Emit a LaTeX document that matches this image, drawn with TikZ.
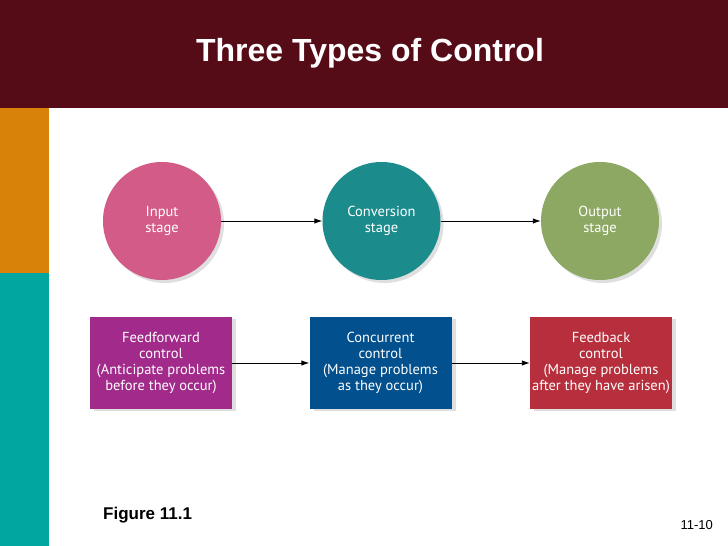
\documentclass[tikz,border=0pt]{standalone}
\usepackage{fontspec}
\setmainfont{Liberation Sans}
\newfontfamily\stagefont{PT Sans}
\usetikzlibrary{shadows,arrows.meta}
\definecolor{titlebar}{HTML}{560C17}
\definecolor{sideorange}{HTML}{D9820A}
\definecolor{sideteal}{HTML}{00A69F}
\definecolor{inputpink}{HTML}{D25C87}
\definecolor{convteal}{HTML}{1C8B8C}
\definecolor{outgreen}{HTML}{8CA862}
\definecolor{ffpurple}{HTML}{A12A8A}
\definecolor{ccblue}{HTML}{02508D}
\definecolor{fbred}{HTML}{B72F3C}
\begin{document}
\begin{tikzpicture}[x=1pt,y=-1pt]
	    \tikzset{>={Latex[length=8pt,width=5.5pt]}}
	    \tikzset{stage/.style={circle,minimum size=118pt,inner sep=0pt,text=white,align=center,font=\stagefont\fontsize{14.5}{16.5}\selectfont,drop shadow={opacity=0.25,shadow xshift=3pt,shadow yshift=-3pt}}}
	    \tikzset{ctrl/.style={rectangle,minimum width=142pt,minimum height=92pt,inner sep=0pt,text=white,align=center,font=\stagefont\fontsize{14.5}{15.8}\selectfont,drop shadow={opacity=0.25,shadow xshift=4pt,shadow yshift=-2pt}}}
	    \useasboundingbox (0,0) rectangle (728,546);
	    \fill[titlebar] (0,0) rectangle (728,108);
	    \fill[sideorange] (0,108) rectangle (49,273);
	    \fill[sideteal] (0,273) rectangle (49,546);
	    \node[text=white,anchor=base,font=\bfseries\fontsize{32}{38}\selectfont] (title) at (370,61) {Three Types of Control};
	    \node[stage,fill=inputpink] (input) at (162,221) {Input\\stage};
	    \node[stage,fill=convteal] (conversion) at (381.5,221) {Conversion\\stage};
	    \node[stage,fill=outgreen] (output) at (600,221) {Output\\stage};
	    \node[ctrl,fill=ffpurple] (feedforward) at (161,363) {Feedforward\\control\\(Anticipate problems\\before they occur)};
	    \node[ctrl,fill=ccblue] (concurrent) at (380.5,363) {Concurrent\\control\\(Manage problems\\as they occur)};
	    \node[ctrl,fill=fbred] (feedback) at (601,363) {Feedback\\control\\(Manage problems\\after they have arisen)};
	    \draw[->,line width=0.9pt] (input) -- (conversion);
	    \draw[->,line width=0.9pt] (conversion) -- (output);
	    \draw[->,line width=0.9pt] (feedforward) -- (concurrent);
	    \draw[->,line width=0.9pt] (concurrent) -- (feedback);
	    \node[anchor=base west,inner sep=0pt,font=\bfseries\fontsize{17}{20}\selectfont] (figure) at (103,519) {Figure 11.1};
	    \node[anchor=base east,inner sep=0pt,font=\fontsize{13}{15}\selectfont] (page) at (713,529) {11-10};
	\end{tikzpicture}
\end{document}
